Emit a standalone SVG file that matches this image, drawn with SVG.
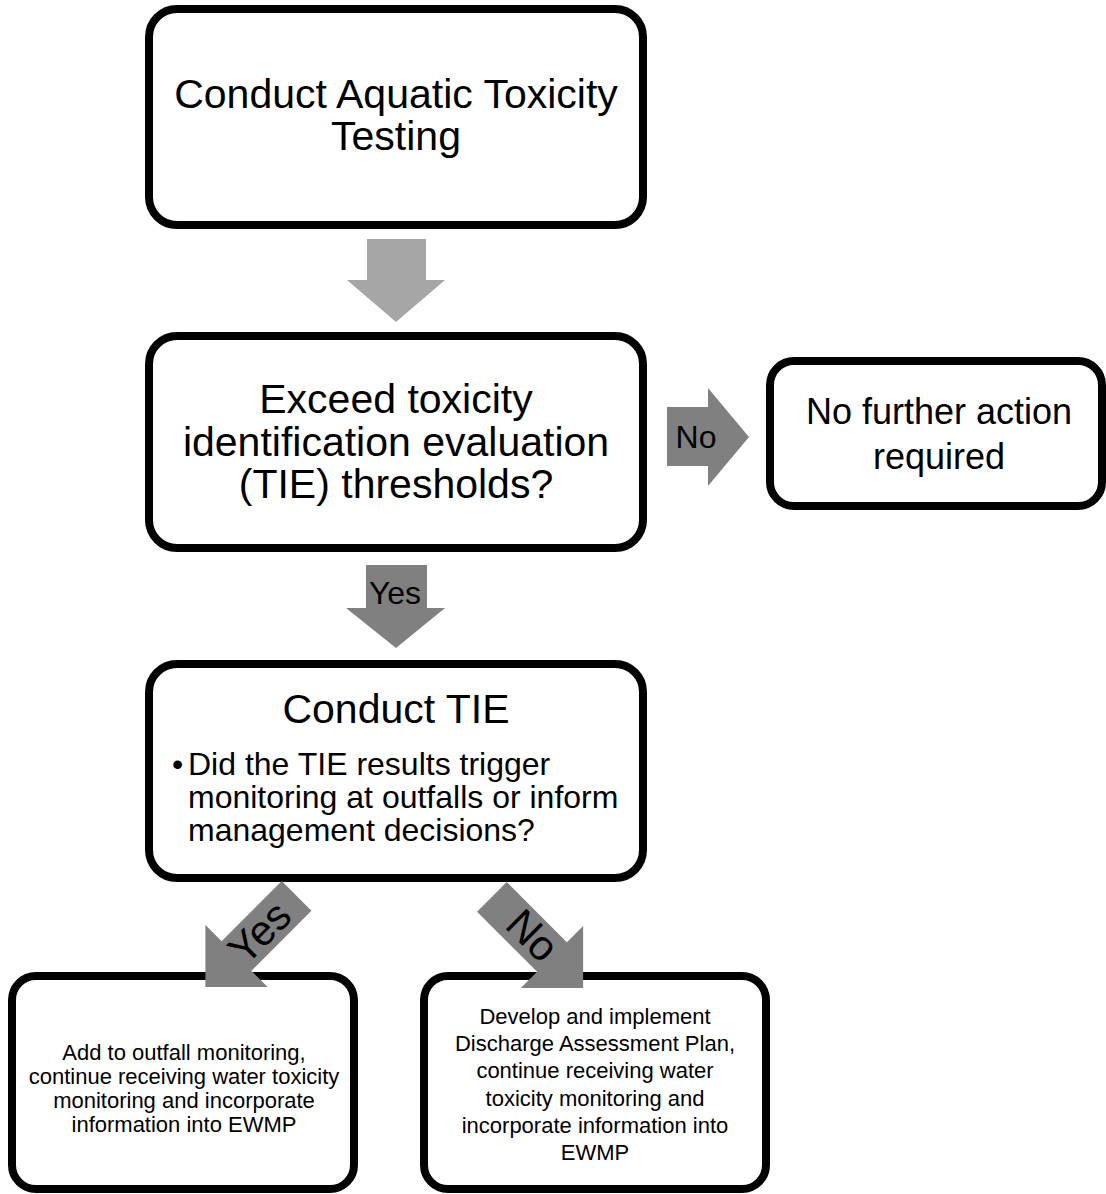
<svg xmlns="http://www.w3.org/2000/svg" width="1106" height="1194" viewBox="0 0 1106 1194">
<style>
  .box { fill: #ffffff; stroke: #000000; stroke-width: 8; }
  .t { font-family: "Liberation Sans", Arial, sans-serif; fill: #000000; text-anchor: middle; }
  .big { font-size: 41px; }
  .mid { font-size: 36px; }
  .sub { font-size: 32px; }
  .small { font-size: 22px; }
  .lbl { font-family: "Liberation Sans", Arial, sans-serif; fill: #000000; text-anchor: middle; font-size: 32px; }
  .dlbl { font-size: 42px; }
  .arrowL { fill: #a6a6a6; }
  .arrowD { fill: #808080; }
</style>
<defs>
  <polygon id="diag" points="-21,-85 21,-85 21,0 44,0 0,44 -44,0 -21,0"/>
</defs>
<rect x="0" y="0" width="1106" height="1194" fill="#ffffff"/>

<g id="node-testing">
  <rect class="box" x="149" y="9" width="494" height="216" rx="28" ry="28"/>
  <text class="t big" x="396" y="108">Conduct Aquatic Toxicity</text>
  <text class="t big" x="396" y="150">Testing</text>
</g>

<g id="node-exceed">
  <rect class="box" x="149" y="336" width="494" height="212" rx="28" ry="28"/>
  <text class="t big" x="396" y="413">Exceed toxicity</text>
  <text class="t big" x="396" y="456">identification evaluation</text>
  <text class="t big" x="396" y="498">(TIE) thresholds?</text>
</g>

<g id="node-noaction">
  <rect class="box" x="770" y="361" width="332" height="145" rx="24" ry="24"/>
  <text class="t mid" x="939" y="424">No further action</text>
  <text class="t mid" x="939" y="469">required</text>
</g>

<g id="node-conduct-tie">
  <rect class="box" x="149" y="664" width="494" height="214" rx="28" ry="28"/>
  <text class="t big" x="396" y="723">Conduct TIE</text>
  <text class="t sub" x="172" y="775" style="text-anchor:start">•</text>
  <text class="t sub" x="188" y="775" style="text-anchor:start">Did the TIE results trigger</text>
  <text class="t sub" x="188" y="808" style="text-anchor:start">monitoring at outfalls or inform</text>
  <text class="t sub" x="188" y="841" style="text-anchor:start">management decisions?</text>
</g>

<g id="node-outfall">
  <rect class="box" x="12" y="976" width="342" height="213" rx="24" ry="24"/>
  <text class="t small" x="184" y="1060">Add to outfall monitoring,</text>
  <text class="t small" x="184" y="1084">continue receiving water toxicity</text>
  <text class="t small" x="184" y="1108">monitoring and incorporate</text>
  <text class="t small" x="184" y="1132">information into EWMP</text>
</g>

<g id="node-dap">
  <rect class="box" x="424" y="976" width="342" height="213" rx="24" ry="24"/>
  <text class="t small" x="595" y="1024">Develop and implement</text>
  <text class="t small" x="595" y="1051">Discharge Assessment Plan,</text>
  <text class="t small" x="595" y="1078">continue receiving water</text>
  <text class="t small" x="595" y="1106">toxicity monitoring and</text>
  <text class="t small" x="595" y="1133">incorporate information into</text>
  <text class="t small" x="595" y="1160">EWMP</text>
</g>

<g id="connectors">
  <polygon class="arrowL" points="367,239 426,239 426,280 445,280 396,322 347,280 367,280"/>
  <g id="edge-no">
    <polygon class="arrowD" points="667,407 708,407 708,388 749,437 708,486 708,466 667,466"/>
    <text class="lbl" x="696" y="448">No</text>
  </g>
  <g id="edge-yes">
    <polygon class="arrowD" points="366,565 427,565 427,608 445,608 396,648 346,608 366,608"/>
    <text class="lbl" x="395" y="604">Yes</text>
  </g>
  <g id="edge-yes2">
    <use href="#diag" class="arrowD" transform="translate(236.5,956) rotate(45)"/>
    <text class="lbl dlbl" transform="translate(259,932) rotate(-45)" x="0" y="15">Yes</text>
  </g>
  <g id="edge-no2">
    <use href="#diag" class="arrowD" transform="translate(552,957) rotate(-45)"/>
    <text class="lbl dlbl" transform="translate(533,935) rotate(45)" x="0" y="15">No</text>
  </g>
</g>
</svg>
